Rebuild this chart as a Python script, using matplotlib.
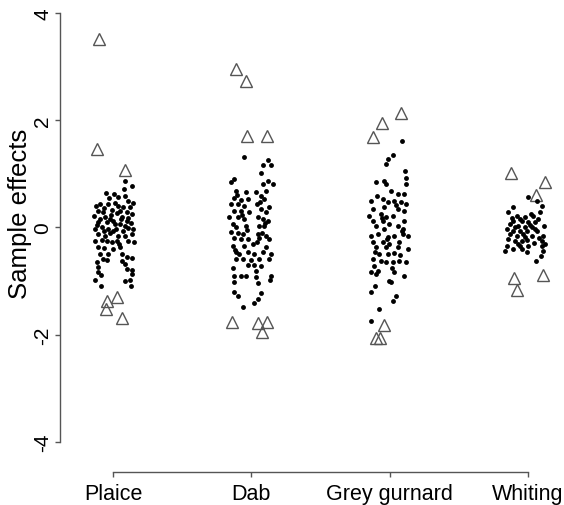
import matplotlib
matplotlib.use("Agg")
import matplotlib.pyplot as plt
import numpy as np

plt.rcParams['font.family'] = ['Liberation Sans', 'DejaVu Sans']

categories = ["Plaice", "Dab", "Grey gurnard", "Whiting"]

# ---- Plaice ----
plaice_dot_jit = [.087, .137, .080, .007, .036, .087, .108, .145, -.123, -.094, -.036, .036, .072, -.108, -.072,
                  -.007, .029, .101, .137, -.137, -.058, -.022, .065, .101, -.108, -.043, .014, .051, .130, -.130,
                  -.080, -.036, 0, .072, .108, .145, -.108, -.058, -.022, .036, .087, .137, -.130, -.080, -.043,
                  -.007, .029, .108, .152, -.108, -.065, 0, .051, -.094, -.036, .065, .101, -.072, -.043, .065,
                  .137, .087, -.116, -.108, .101, .137, -.108, -.087, .137, -.130, .123, .087, -.087, .130,
                  -.065, .014, .051, -.014, -.094, .087, .022, -.065, .058, -.029, -.116, .123, 0, .043, -.051, .108]
plaice_dot_val = [0.87, 0.77, 0.72, 0.62, 0.57, 0.59, 0.49, 0.46, 0.40, 0.44, 0.44, 0.40, 0.38, 0.31, 0.29,
                  0.33, 0.27, 0.29, 0.25, 0.21, 0.20, 0.16, 0.20, 0.12, 0.10, 0.10, 0.07, 0.07, 0.08, -0.03,
                  0.01, -0.03, -0.07, -0.07, -0.01, -0.03, -0.12, -0.16, -0.10, -0.16, -0.16, -0.12, -0.25, -0.23, -0.25,
                  -0.27, -0.25, -0.25, -0.27, -0.36, -0.38, -0.40, -0.36, -0.49, -0.49, -0.49, -0.55, -0.59, -0.61, -0.63,
                  -0.57, -0.68, -0.64, -0.74, -0.77, -0.79, -0.83, -0.89, -0.87, -0.98, -0.98, -1.00, -1.09, -1.09,
                  0.36, 0.45, 0.30, 0.24, 0.15, 0.03, -0.02, -0.07, 0.16, 0.55, 0.05, 0.38, 0.12, -0.30, 0.65, 0.18]
plaice_tri_jit = [-.101, -.116, .087, .029, -.043, -.051, .065]
plaice_tri_val = [3.52, 1.46, 1.07, -1.30, -1.37, -1.52, -1.69]

# ---- Dab ----
dab_dot_jit = [-.051, .123, .087, .145, .072, -.123, -.145, .123, .087, .159, -.108, -.036, .036, .108, .072,
               -.123, -.072, -.022, .094, -.145, -.094, -.051, .043, .130, -.123, -.072, -.014, .072, .108, -.159,
               -.094, -.051, .051, .087, .123, -.130, -.108, -.036, .058, .094, -.145, -.094, -.058, .051, .108,
               -.123, -.072, -.022, .058, .130, -.130, -.051, .014, .108, -.108, -.087, -.022, .022, .087, .145,
               -.108, -.058, 0, .058, .130, -.022, .022, .072, -.130, .036, -.123, -.072, -.036, .145, .036,
               .137, -.123, .051, -.123, -.094, .072, .051, .022, -.058,
               -.101, .065, -.065, .101, -.029, .043, -.116, .080]
dab_dot_val = [1.31, 1.26, 1.17, 1.17, 1.02, 0.90, 0.85, 0.87, 0.81, 0.81, 0.68, 0.66, 0.66, 0.68, 0.59,
               0.55, 0.51, 0.53, 0.53, 0.44, 0.44, 0.40, 0.44, 0.38, 0.31, 0.31, 0.29, 0.35, 0.29, 0.20,
               0.20, 0.16, 0.20, 0.16, 0.12, 0.07, 0.01, 0.03, 0.03, 0.03, -0.08, -0.10, -0.12, -0.12, -0.16,
               -0.20, -0.21, -0.21, -0.20, -0.21, -0.35, -0.35, -0.31, -0.36, -0.46, -0.49, -0.46, -0.49, -0.46, -0.49,
               -0.59, -0.59, -0.61, -0.59, -0.59, -0.70, -0.70, -0.72, -0.76, -0.81, -0.90, -0.90, -0.90, -0.90, -0.92,
               -0.98, -1.02, -1.04, -1.20, -1.28, -1.22, -1.33, -1.41, -1.48,
               0.60, 0.47, 0.24, 0.08, -0.05, -0.27, -0.42, -0.10]
dab_tri_jit = [-.108, -.036, -.029, .116, -.137, .051, .116, .080]
dab_tri_val = [2.96, 2.73, 1.71, 1.71, -1.76, -1.78, -1.76, -1.95]

# ---- Grey gurnard ----
gur_dot_jit = [.087, .022, -.014, -.029, .108, .116, -.101, -.043, .116, -.029, .007, .058, .101, -.137, -.051,
               -.014, .029, .080, .116, -.123, -.043, .058, .101, -.152, -.065, -.029, .022, -.123, -.051, .101,
               -.007, .058, -.101, -.043, .094, -.137, -.087, -.014, .029, .094, .130, -.123, -.051, -.007, .065,
               -.101, -.029, .058, .130, -.080, -.014, .029, -.123, -.065, -.029, .022, .065, .116, -.116, -.087,
               -.137, .029, .101, -.101, -.007, -.108, .007, -.137, .043, .022, -.080, -.137,
               -.094, .043, -.058, .087, -.022, .072, -.108, .014]
gur_dot_val = [1.61, 1.35, 1.28, 1.18, 1.05, 0.92, 0.85, 0.87, 0.81, 0.81, 0.68, 0.62, 0.62, 0.49, 0.53,
               0.48, 0.49, 0.48, 0.44, 0.35, 0.38, 0.35, 0.31, 0.21, 0.25, 0.20, 0.21, 0.12, 0.12, 0.12,
               0.07, 0.03, 0.03, -0.03, -0.03, -0.16, -0.12, -0.18, -0.16, -0.12, -0.16, -0.27, -0.27, -0.31, -0.27,
               -0.36, -0.36, -0.36, -0.40, -0.49, -0.49, -0.48, -0.59, -0.63, -0.64, -0.64, -0.63, -0.64, -0.72, -0.81,
               -0.83, -0.83, -0.90, -0.87, -1.00, -1.09, -1.02, -1.20, -1.28, -1.37, -1.52, -1.74,
               0.58, 0.42, 0.17, -0.07, -0.22, -0.52, -0.45, -0.75]
gur_tri_jit = [-.123, -.058, .080, -.043, -.101, -.072]
gur_tri_val = [1.69, 1.95, 2.14, -1.82, -2.06, -2.06]

# ---- Whiting ----
whi_dot_jit = [0, .065, .101, -.108, .087, -.145, -.080, -.022, .036, .072, -.108, -.043, 0, .051, -.130,
               -.072, -.022, .029, .116, -.152, -.108, -.058, -.007, .065, -.130, -.080, -.036, .029, .108, -.145,
               -.094, -.043, -.007, .101, .123, -.152, -.058, 0, .101, -.108, -.043, -.166, .108, -.007, .094, .058,
               .014, -.058, .051, -.094, -.022, .022, -.072, .043, -.116, .080]
whi_dot_val = [0.57, 0.49, 0.40, 0.38, 0.29, 0.29, 0.21, 0.20, 0.21, 0.16, 0.12, 0.12, 0.10, 0.10, 0.07,
               0.03, 0.01, 0.01, 0.03, -0.03, -0.07, -0.07, -0.07, -0.07, -0.12, -0.16, -0.12, -0.16, -0.16, -0.21,
               -0.25, -0.25, -0.23, -0.25, -0.31, -0.35, -0.35, -0.35, -0.35, -0.40, -0.40, -0.44, -0.44, -0.46, -0.53, -0.63,
               0.05, 0.15, -0.02, 0.00, -0.18, 0.25, -0.30, -0.28, 0.18, -0.20]
whi_tri_jit = [-.123, .123, .058, -.101, .108, -.080]
whi_tri_val = [1.02, 0.85, 0.60, -0.94, -0.89, -1.17]

dot_jits = [plaice_dot_jit, dab_dot_jit, gur_dot_jit, whi_dot_jit]
dot_vals = [plaice_dot_val, dab_dot_val, gur_dot_val, whi_dot_val]
tri_jits = [plaice_tri_jit, dab_tri_jit, gur_tri_jit, whi_tri_jit]
tri_vals = [plaice_tri_val, dab_tri_val, gur_tri_val, whi_tri_val]

yticks = [-4, -2, 0, 2, 4]

W, H = 564, 506
fig = plt.figure(figsize=(W / 100, H / 100), dpi=100)
left_px, right_px, top_px, bottom_px = 60, 560, 3.3, 473
ax = fig.add_axes([left_px / W, (H - bottom_px) / H, (right_px - left_px) / W, (bottom_px - top_px) / H])

for i in range(len(categories)):
    pos = i + 1
    ax.plot(pos + np.asarray(dot_jits[i]), dot_vals[i], 'o', color='black', ms=3.5, mew=0, zorder=3)
    ax.plot(pos + np.asarray(tri_jits[i]), tri_vals[i], '^', mfc='none', mec='#555555', mew=1.0, ms=8, zorder=2)

ax.set_xlim(0.617, 4.232)
ax.set_ylim(-4.56, 4.2)

axcol = '#555555'
for s in ['top', 'right']:
    ax.spines[s].set_visible(False)
ax.spines['left'].set_bounds(-4, 4)
ax.spines['bottom'].set_bounds(1, 4)
for s in ['left', 'bottom']:
    ax.spines[s].set_color(axcol)
    ax.spines[s].set_linewidth(1.0)

ax.set_xticks(range(1, len(categories) + 1))
ax.set_xticklabels(categories, fontsize=15.5)
ax.set_yticks(yticks)
ax.set_yticklabels([str(t) for t in yticks], fontsize=15, rotation=90, va='center')
ax.tick_params(axis='both', length=3.6, width=1.0, color=axcol, direction='out')
ax.tick_params(axis='x', pad=4)
ax.tick_params(axis='y', pad=2)
ax.set_ylabel("Sample effects", fontsize=18.5, va='center')
ax.yaxis.set_label_coords((20 - left_px) / (right_px - left_px), (bottom_px - 214) / (bottom_px - top_px))

fig.savefig("out.png", dpi=100)
